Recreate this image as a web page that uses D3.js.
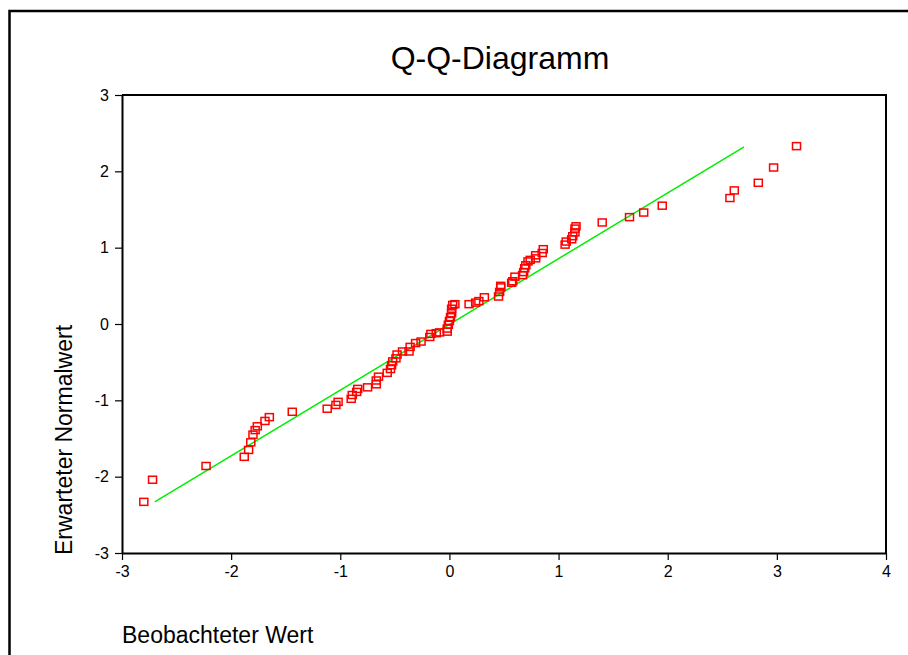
<!DOCTYPE html>
<html>
<head>
<meta charset="utf-8">
<script src="https://cdn.jsdelivr.net/npm/d3@7"></script>
<style>
  body { margin: 0; background: #fff; }
  text { font-family: "Liberation Sans", Arial, sans-serif; fill: #000; }
</style>
</head>
<body>
<div id="chart"></div>
<script>
const observed = [
    -2.80, -2.72, -2.23, -1.88, -1.84, -1.82, -1.80, -1.78, -1.76, -1.69,
    -1.65, -1.44, -1.12, -1.04, -1.02, -0.90, -0.89, -0.85, -0.84, -0.75,
    -0.67, -0.67, -0.65, -0.57, -0.54, -0.53, -0.52, -0.49, -0.48, -0.43,
    -0.37, -0.36, -0.31, -0.26, -0.18, -0.17, -0.12, -0.09, -0.02, -0.02,
    -0.01, 0.00, 0.01, 0.02, 0.02, 0.03, 0.05, 0.18, 0.24, 0.27,
    0.32, 0.45, 0.46, 0.47, 0.47, 0.57, 0.58, 0.60, 0.67, 0.68,
    0.69, 0.70, 0.72, 0.74, 0.79, 0.79, 0.85, 0.86, 1.06, 1.07,
    1.12, 1.13, 1.15, 1.15, 1.16, 1.40, 1.65, 1.78, 1.95, 2.57,
    2.61, 2.83, 2.97, 3.18
];
const expected = [
    -2.33, -2.04, -1.86, -1.74, -1.65, -1.55, -1.45, -1.39, -1.34, -1.27,
    -1.22, -1.15, -1.11, -1.06, -1.02, -0.98, -0.93, -0.89, -0.85, -0.83,
    -0.79, -0.74, -0.69, -0.64, -0.59, -0.54, -0.49, -0.45, -0.40, -0.36,
    -0.36, -0.30, -0.25, -0.23, -0.17, -0.13, -0.12, -0.11, -0.10, -0.06,
    -0.01, 0.04, 0.09, 0.14, 0.20, 0.25, 0.26, 0.26, 0.28, 0.30,
    0.35, 0.36, 0.42, 0.48, 0.50, 0.54, 0.56, 0.62, 0.64, 0.68,
    0.73, 0.77, 0.82, 0.84, 0.86, 0.90, 0.93, 0.98, 1.04, 1.08,
    1.11, 1.15, 1.20, 1.25, 1.28, 1.33, 1.40, 1.46, 1.55, 1.65,
    1.75, 1.85, 2.05, 2.33
];
// reference line end points
const lineX = [-2.70, 2.70];
const lineY = [-2.33, 2.32];

const xTicks = [-3, -2, -1, 0, 1, 2, 3, 4];
const yTicks = [-3, -2, -1, 0, 1, 2, 3];

const width = 908, height = 655;
const margin = { top: 95, right: 22, bottom: 102, left: 122 };

const svg = d3.select('#chart').append('svg')
    .attr('width', width)
    .attr('height', height);

// outer frame (runs off the right and bottom edge)
svg.append('rect')
    .attr('x', 9.5).attr('y', 11)
    .attr('width', 1000).attr('height', 1000)
    .attr('fill', 'none').attr('stroke', '#000').attr('stroke-width', 2.5);

const x = d3.scaleLinear().domain([-3, 4]).range([margin.left, width - margin.right]);
const y = d3.scaleLinear().domain([-3, 3]).range([height - margin.bottom, margin.top]);

svg.append('text')
    .attr('x', 500).attr('y', 69)
    .attr('text-anchor', 'middle')
    .style('font-size', '32px')
    .text('Q-Q-Diagramm');

const fmt = (d) => String(d); // plain hyphen minus like the original

// axes
const xAxis = svg.append('g')
    .attr('transform', `translate(0, ${y(-3)})`)
    .call(d3.axisBottom(x).tickValues(xTicks).tickFormat(fmt).tickSize(7).tickPadding(6).tickSizeOuter(0));
const yAxis = svg.append('g')
    .attr('transform', `translate(${x(-3)}, 0)`)
    .call(d3.axisLeft(y).tickValues(yTicks).tickFormat(fmt).tickSize(7).tickPadding(6).tickSizeOuter(0));

[xAxis, yAxis].forEach((g) => {
    g.attr('font-size', 16).attr('font-family', '"Liberation Sans", Arial, sans-serif');
    g.select('.domain').attr('stroke', '#000').attr('stroke-width', 2);
    g.selectAll('.tick line').attr('stroke', '#000').attr('stroke-width', 1.2);
    g.selectAll('.tick text').style('font-size', '16px');
});

// top and right border of the plot area
svg.append('path')
    .attr('d', `M${x(-3)},${y(3)}H${x(4)}V${y(-3)}`)
    .attr('fill', 'none').attr('stroke', '#000').attr('stroke-width', 2);

svg.append('line')
    .attr('x1', x(lineX[0])).attr('y1', y(lineY[0]))
    .attr('x2', x(lineX[1])).attr('y2', y(lineY[1]))
    .attr('stroke', '#00ee00').attr('stroke-width', 1.5);

const pts = observed.map((v, i) => ({ o: v, e: expected[i] }));
svg.append('g').selectAll('rect')
    .data(pts)
    .enter()
    .append('rect')
    .attr('x', (d) => x(d.o) - 4)
    .attr('y', (d) => y(d.e) - 3.5)
    .attr('width', 8)
    .attr('height', 7)
    .attr('fill', 'none')
    .attr('stroke', '#ff0000')
    .attr('stroke-width', 1.5);

svg.append('text')
    .attr('x', 122).attr('y', 643)
    .style('font-size', '23px')
    .text('Beobachteter Wert');

svg.append('text')
    .attr('transform', `translate(72, 555) rotate(-90)`)
    .style('font-size', '23px')
    .text('Erwarteter Normalwert');
</script>
</body>
</html>
